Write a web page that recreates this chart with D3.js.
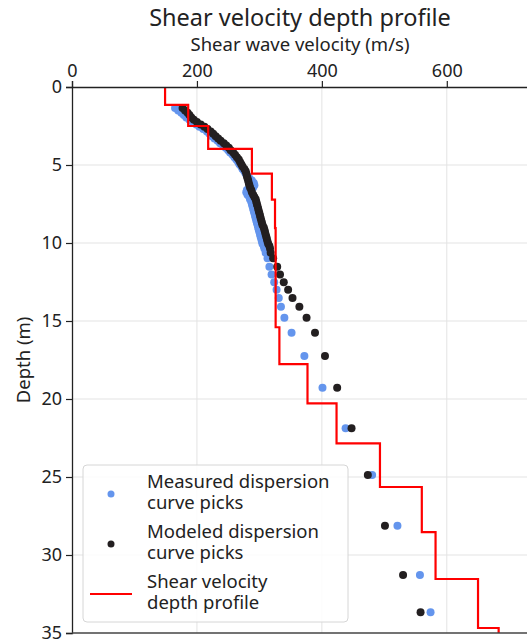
<!DOCTYPE html>
<html>
<head>
<meta charset="utf-8">
<script src="https://cdn.jsdelivr.net/npm/d3@7"></script>
<style>
  body { margin: 0; background: #fff; }
  svg text { font-family: "Noto Sans", "Open Sans", sans-serif; fill: #222; }
</style>
</head>
<body>
<div id="chart"></div>
<script>
// picks: depth (m) and velocity (m/s)
const pickDepths = [1.35, 1.5, 1.65, 1.8, 1.95, 2.1, 2.25, 2.4, 2.55, 2.7, 2.85, 3.0, 3.15, 3.3, 3.45, 3.6,
  3.75, 3.9, 4.05, 4.2, 4.35, 4.5, 4.65, 4.8, 4.95, 5.1, 5.25, 5.4, 5.55, 5.7, 5.85, 6.0, 6.15, 6.3,
  6.45, 6.6, 6.75, 6.9, 7.05, 7.2, 7.35, 7.5, 7.65, 7.8, 7.95, 8.1, 8.25, 8.4, 8.55, 8.7, 8.85, 9.0,
  9.15, 9.3, 9.45, 9.6, 9.75, 9.9, 10.05, 10.2, 10.35,
  10.62, 10.98, 11.52, 12.02, 12.52, 13.0, 13.53, 14.08, 14.79, 15.75, 17.24, 19.28, 21.88, 24.87, 28.12, 31.28, 33.67]

const measuredVel = [165, 170, 175, 179, 183, 188, 193, 199, 204, 210, 216, 220, 224, 228, 233, 237,
  242, 246, 250, 253, 257, 260, 263, 266, 268, 271, 273, 276, 278, 281, 284, 288, 291, 292,
  290, 280, 279, 281, 284, 285, 287, 288, 289, 290, 291, 292, 293, 294, 295, 296, 297, 298,
  299, 300, 301, 302, 303, 304, 305, 307, 308,
  310, 313, 316, 319.5, 323.7, 327.5, 331, 334.5, 340, 351.5, 372, 401, 438, 480.5, 521, 557, 574]

const modeledVel = [177, 181, 185, 188, 191, 195, 200, 206, 212, 217, 222, 226, 230, 234, 238, 243,
  247, 251, 254, 258, 261, 264, 267, 269, 271, 273, 276, 278, 279, 280, 281, 282, 283, 284,
  285, 287, 288, 290, 292, 294, 295, 296, 297, 298, 299, 300, 301, 302, 303, 304, 305, 307,
  308, 309, 310, 311, 312, 313, 314, 316, 317,
  318, 322, 328.5, 333, 339, 346, 353, 364, 375.5, 389, 405, 424.5, 447.5, 473.6, 501, 530, 558]

// layered shear velocity profile
const layerBounds = [0, 1.15, 2.5, 3.97, 5.55, 7.22, 9.05, 15.4, 17.76, 20.28, 22.84, 25.64, 28.53, 31.54, 34.68, 35]
const layerVel = [149, 186, 218, 288, 320, 325, 326, 332, 377, 423.5, 493, 560, 582, 650, 683]

const xTicks = [0, 200, 400, 600]
const yTicks = [0, 5, 10, 15, 20, 25, 30, 35]

const width = 527, height = 644
const margin = { top: 87, right: -1, bottom: 11, left: 72 }

const svg = d3.select("#chart").append("svg")
  .attr("width", width)
  .attr("height", height)

const x = d3.scaleLinear().domain([0, 730]).range([margin.left, width - margin.right])
const y = d3.scaleLinear().domain([0, 35]).range([margin.top, height - margin.bottom])

// grid
svg.append("g").selectAll("line")
  .data(xTicks.slice(1))
  .enter().append("line")
  .attr("x1", d => x(d)).attr("x2", d => x(d))
  .attr("y1", y(0)).attr("y2", y(35))
  .attr("stroke", "#e3e3e3").attr("stroke-width", 1)

svg.append("g").selectAll("line")
  .data(yTicks.slice(1, -1))
  .enter().append("line")
  .attr("x1", x(0)).attr("x2", x(730))
  .attr("y1", d => y(d)).attr("y2", d => y(d))
  .attr("stroke", "#e3e3e3").attr("stroke-width", 1)

// measured picks first, modeled on top
const picks = pickDepths.map((d, i) => ({ depth: d, meas: measuredVel[i], model: modeledVel[i] }))

svg.append("g").selectAll("circle")
  .data(picks)
  .enter().append("circle")
  .attr("cx", d => x(d.meas))
  .attr("cy", d => y(d.depth))
  .attr("r", 4)
  .attr("fill", "#6495ed")

svg.append("g").selectAll("circle")
  .data(picks)
  .enter().append("circle")
  .attr("cx", d => x(d.model))
  .attr("cy", d => y(d.depth))
  .attr("r", 4)
  .attr("fill", "#231f20")

// step profile
const stepPts = []
layerVel.forEach((v, i) => {
  stepPts.push([v, layerBounds[i]])
  stepPts.push([v, layerBounds[i + 1]])
})

svg.append("path")
  .datum(stepPts)
  .attr("fill", "none")
  .attr("stroke", "#ff0000")
  .attr("stroke-width", 2.2)
  .attr("d", d3.line().x(d => x(d[0])).y(d => y(d[1])))

// axes
const xAxis = svg.append("g")
  .attr("transform", `translate(0,${y(0)})`)
  .call(d3.axisTop(x).tickValues(xTicks).tickSize(6).tickPadding(4))
const yAxis = svg.append("g")
  .attr("transform", `translate(${x(0)},0)`)
  .call(d3.axisLeft(y).tickValues(yTicks).tickSize(6).tickPadding(4))

;[xAxis, yAxis].forEach(a => {
  a.select(".domain").attr("stroke", "#222").attr("stroke-width", 1.3)
  a.selectAll(".tick line").attr("stroke", "#222").attr("stroke-width", 1.2)
  a.selectAll(".tick text").style("font-size", "18px").attr("fill", "#222")
})

svg.append("line")
  .attr("x1", x(0)).attr("x2", width)
  .attr("y1", y(35)).attr("y2", y(35))
  .attr("stroke", "#444").attr("stroke-width", 1.5)

// titles
svg.append("text")
  .attr("x", 300).attr("y", 26)
  .attr("text-anchor", "middle")
  .style("font-size", "23.5px")
  .text("Shear velocity depth profile")

svg.append("text")
  .attr("x", 300).attr("y", 50.5)
  .attr("text-anchor", "middle")
  .style("font-size", "18.5px")
  .text("Shear wave velocity (m/s)")

svg.append("text")
  .attr("transform", `translate(30,${(y(0) + y(35)) / 2}) rotate(-90)`)
  .attr("text-anchor", "middle")
  .style("font-size", "18.5px")
  .text("Depth (m)")

// legend
const legend = svg.append("g")
legend.append("rect")
  .attr("x", 83).attr("y", 465)
  .attr("width", 265).attr("height", 157)
  .attr("rx", 4)
  .attr("fill", "#fff").attr("fill-opacity", 0.85)
  .attr("stroke", "#d6d6d6")

const legendItems = [
  { kind: "dot", color: "#6495ed", lines: ["Measured dispersion", "curve picks"], top: 488 },
  { kind: "dot", color: "#231f20", lines: ["Modeled dispersion", "curve picks"], top: 538 },
  { kind: "line", color: "#ff0000", lines: ["Shear velocity", "depth profile"], top: 588 }
]

legendItems.forEach(item => {
  const cy = item.top + 6
  if (item.kind === "dot") {
    legend.append("circle").attr("cx", 111).attr("cy", cy).attr("r", 3.5).attr("fill", item.color)
  } else {
    legend.append("line")
      .attr("x1", 90).attr("x2", 132).attr("y1", cy).attr("y2", cy)
      .attr("stroke", item.color).attr("stroke-width", 2.2)
  }
  // two lines per label, kept in one text node
  const label = legend.append("text")
    .attr("x", 147).attr("y", item.top)
    .style("font-size", "18.5px")
  item.lines.forEach((t, j) => {
    label.append("tspan")
      .attr("x", 147).attr("dy", j === 0 ? 0 : 20.5)
      .text(t)
  })
})
</script>
</body>
</html>
